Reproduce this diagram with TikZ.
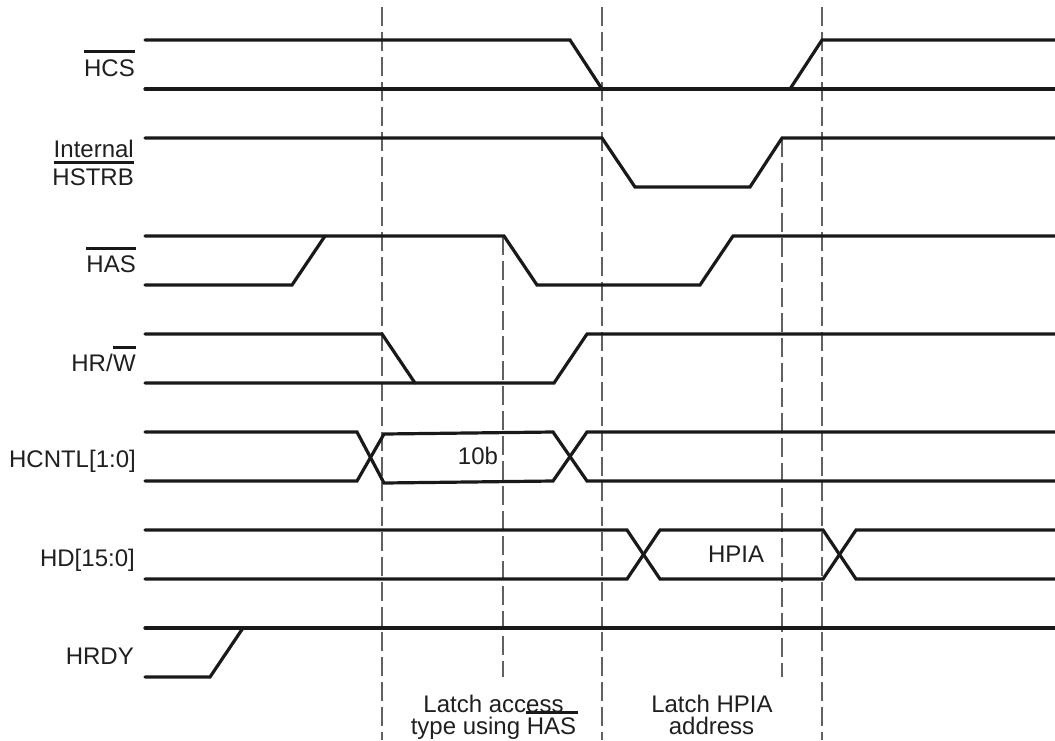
\documentclass[tikz,border=0pt]{standalone}
\usepackage{fontspec}
\setmainfont{Liberation Sans}
\begin{document}
\begin{tikzpicture}[x=1pt,y=-1pt,
  sig/.style={line width=3.2pt, color=black!90, line cap=round, line join=miter},
  gridline/.style={line width=1.2pt, color=black!62, dash pattern=on 19pt off 6pt},
  lbl/.style={inner sep=0pt, font=\fontsize{24}{22}\selectfont, text=black!88},
  ovl/.style={line width=3pt, color=black!90}]
\useasboundingbox (0,0) rectangle (1055,740);

% dashed reference lines
\draw[gridline] (382,7) -- (382,740);
\draw[gridline] (503,236) -- (503,677);
\draw[gridline] (602,7) -- (602,740);
\draw[gridline] (782,138) -- (782,677);
\draw[gridline] (822,7) -- (822,740);

% HCS
\draw[sig] (145,40) -- (570,40) -- (602,89);
\draw[sig] (145,89) -- (1055,89);
\draw[sig] (790,89) -- (822,40) -- (1055,40);

% Internal HSTRB
\draw[sig] (145,138) -- (602,138) -- (635,187) -- (750,187) -- (782,138) -- (1055,138);

% HAS
\draw[sig] (145,236) -- (504,236) -- (537,285) -- (700,285) -- (733,236) -- (1055,236);
\draw[sig] (145,285) -- (292,285) -- (325,236);

% HR/W
\draw[sig] (145,334) -- (382,334) -- (415,383);
\draw[sig] (145,383) -- (554,383) -- (587,334) -- (1055,334);

% HCNTL[1:0]
\draw[sig] (145,432) -- (357,432) -- (384,483) -- (553,481) -- (587,432) -- (1055,432);
\draw[sig] (145,481) -- (357,481) -- (384,434) -- (553,432) -- (587,481) -- (1055,481);

% HD[15:0]
\draw[sig] (145,530) -- (627,530) -- (660,579) -- (823,579) -- (856,530) -- (1055,530);
\draw[sig] (145,579) -- (627,579) -- (660,530) -- (823,530) -- (856,579) -- (1055,579);

% HRDY
\draw[sig] (145,628) -- (1055,628);
\draw[sig] (145,677) -- (210,677) -- (243,628);

% labels
\node[lbl, anchor=base east] (hcs) at (135,76) {HCS};
\draw[ovl] ([yshift=8pt]hcs.north west) -- ([yshift=8pt]hcs.north east);

\node[lbl, anchor=base east] (intl) at (134,157) {Internal};
\node[lbl, anchor=base east] (hstrb) at (134,185) {HSTRB};
\draw[ovl] ([yshift=-5pt]intl.base west) -- ([yshift=-5pt]intl.base east);

\node[lbl, anchor=base east] (has) at (136,272) {HAS};
\draw[ovl] ([yshift=7pt]has.north west) -- ([yshift=7pt]has.north east);

\node[lbl, anchor=base east] (hrwW) at (136,371) {W};
\node[lbl, anchor=base east] (hrw) at (hrwW.base west) {HR/};
\draw[ovl] ([yshift=7pt]hrwW.north west) -- ([yshift=7pt]hrwW.north east);

\node[lbl, anchor=base east] (hcntl) at (136,467) {HCNTL[1:0]};
\node[lbl, anchor=base east] (hd) at (135,566) {HD[15:0]};
\node[lbl, anchor=base east] (hrdy) at (134,664) {HRDY};

\node[lbl, anchor=base] (v10b) at (478,464) {10b};
\node[lbl, anchor=base] (vhpia) at (736,562) {HPIA};

\node[lbl, anchor=base] (la1) at (493.5,712) {Latch access};
\node[lbl, anchor=base] (la2) at (493.5,734) {type using HAS};
\draw[ovl] ([xshift=-50pt,yshift=22pt]la2.base east) -- ([xshift=2pt,yshift=22pt]la2.base east);

\node[lbl, anchor=base] (lh1) at (712,712) {Latch HPIA};
\node[lbl, anchor=base] (lh2) at (711.5,734) {address};
\end{tikzpicture}
\end{document}
